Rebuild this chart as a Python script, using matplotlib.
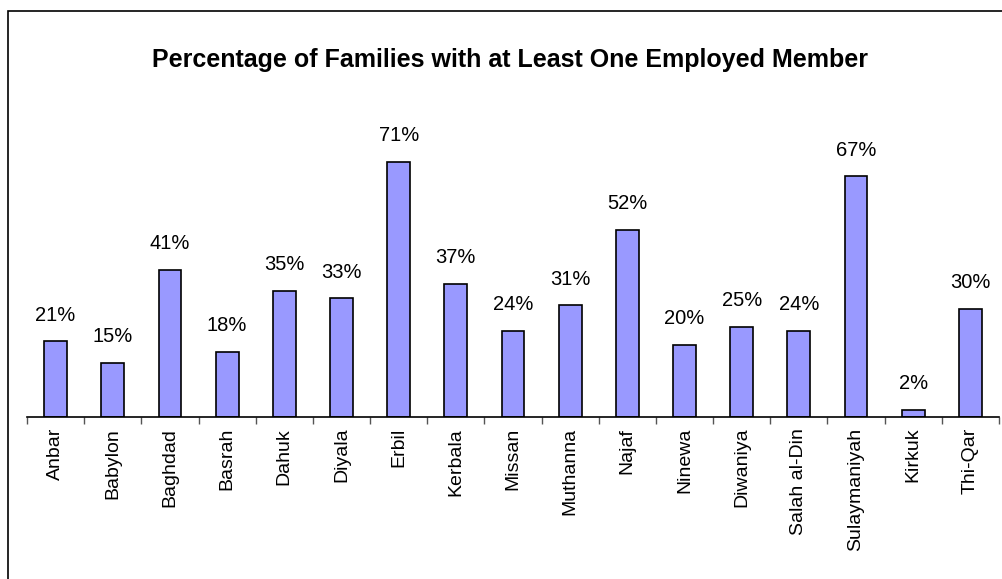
import matplotlib
matplotlib.use("Agg")
import matplotlib.pyplot as plt
from matplotlib.patches import Rectangle
from matplotlib.ticker import FixedLocator, NullLocator

plt.rcParams['font.family'] = ['Liberation Sans', 'DejaVu Sans']

governorates = ["Anbar", "Babylon", "Baghdad", "Basrah", "Dahuk", "Diyala", "Erbil",
                "Kerbala", "Missan", "Muthanna", "Najaf", "Ninewa", "Diwaniya",
                "Salah al-Din", "Sulaymaniyah", "Kirkuk", "Thi-Qar"]
pct_employed = [21, 15, 41, 18, 35, 33, 71, 37, 24, 31, 52, 20, 25, 24, 67, 2, 30]
title = "Percentage of Families with at Least One Employed Member"

W, H = 1002, 579
fig = plt.figure(figsize=(W / 100, H / 100), dpi=100)

# outer frame
fig.patches.append(Rectangle((8 / W, -0.05), 1.2, 1 - 11 / H + 0.05,
                             transform=fig.transFigure, fill=False,
                             edgecolor='black', linewidth=1.2, clip_on=False))

left, right = 27 / W, 999 / W
bottom = 1 - 416.7 / H
top = 1 - 129.5 / H
ax = fig.add_axes([left, bottom, right - left, top - bottom])

x = list(range(len(governorates)))
ax.bar(x, pct_employed, width=0.4, color='#9999FF', edgecolor='black', linewidth=1.2)

for xi, v in zip(x, pct_employed):
    ax.annotate(f"{v}%", (xi, v), xytext=(0, 12), textcoords='offset points',
                ha='center', va='bottom', fontsize=14.5)

ax.set_xlim(-0.5, len(governorates) - 0.5)
ax.set_ylim(0, 80)
ax.set_xticks(x)
ax.set_xticklabels(governorates, rotation=90, fontsize=14)
ax.tick_params(axis='x', which='major', length=0, pad=8)
ax.xaxis.set_minor_locator(FixedLocator([i - 0.5 for i in range(len(governorates) + 1)]))
ax.tick_params(axis='x', which='minor', length=5, width=1, color='#555555')
ax.yaxis.set_major_locator(NullLocator())
for s in ['left', 'right', 'top']:
    ax.spines[s].set_visible(False)
ax.spines['bottom'].set_linewidth(1.2)
ax.patch.set_alpha(0)

fig.text(510 / W, 1 - 60 / H, title, ha='center', va='center',
         fontsize=18, fontweight='bold')

fig.savefig("out.png", dpi=100)
